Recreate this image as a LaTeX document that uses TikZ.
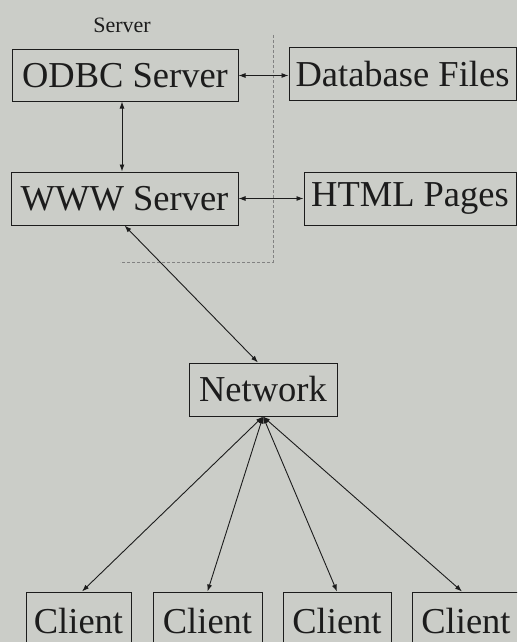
\documentclass[tikz,border=0pt]{standalone}
\usepackage{fontspec}
\setmainfont{Liberation Serif}
\usetikzlibrary{arrows.meta}
\definecolor{paper}{RGB}{203,205,200}
\definecolor{ink}{RGB}{28,28,28}
\begin{document}
\begin{tikzpicture}[x=1pt,y=-1pt,
  box/.style={draw=ink,line width=1pt,inner sep=0pt,align=center,
    font=\fontsize{36.5}{40}\selectfont,text=ink},
  link/.style={draw=ink,line width=0.9pt,
    {Latex[length=7pt,width=5pt]}-{Latex[length=7pt,width=5pt]}},
  boundary/.style={draw=ink!55,line width=0.7pt,dash pattern=on 3pt off 2pt}]
  \useasboundingbox[fill=paper] (0,0) rectangle (517,642);
  \clip (0,0) rectangle (517,642);

  % server side
  \node[font=\fontsize{22}{24}\selectfont,text=ink] (lbl) at (122,25) {Server};
  \node[box,minimum width=226pt,minimum height=51pt] (odbc) at (125,75.5) {ODBC Server};
  \node[box,minimum width=227pt,minimum height=52pt] (db) at (402.5,74) {Database Files};
  \node[box,minimum width=227pt,minimum height=53pt] (www) at (124.5,198.5) {WWW Server};
  \node[box,minimum width=212pt,minimum height=53pt] (html) at (410,198.5) {HTML Pages};

  % boundary of the server machine
  \coordinate (bt) at (273,35);
  \coordinate (bc) at (273,262);
  \coordinate (bl) at (120,262);
  \draw[boundary] (bt) -- (bc) -- (bl);

  % network and clients
  \node[box,minimum width=148pt,minimum height=53pt] (net) at (263,389.5) {Network};
  \node[box,minimum width=105pt,minimum height=58pt] (c1) at (78.5,621) {Client};
  \node[box,minimum width=109pt,minimum height=58pt] (c2) at (207.5,621) {Client};
  \node[box,minimum width=108pt,minimum height=58pt] (c3) at (337,621) {Client};
  \node[box,minimum width=108pt,minimum height=58pt] (c4) at (466,621) {Client};

  % connections
  \draw[link] (odbc.east) -- (db.west |- odbc.east);
  \draw[link] (www.east) -- (html.west |- www.east);
  \draw[link] ([xshift=-3pt]odbc.south) -- ([xshift=-2.5pt]www.north);
  \draw[link] (www.south) -- ([xshift=-5pt]net.north);
  \draw[link] (net.south) -- ([xshift=3.5pt]c1.north);
  \draw[link] (net.south) -- (c2.north);
  \draw[link] (net.south) -- (c3.north);
  \draw[link] (net.south) -- ([xshift=-4pt]c4.north);
\end{tikzpicture}
\end{document}
